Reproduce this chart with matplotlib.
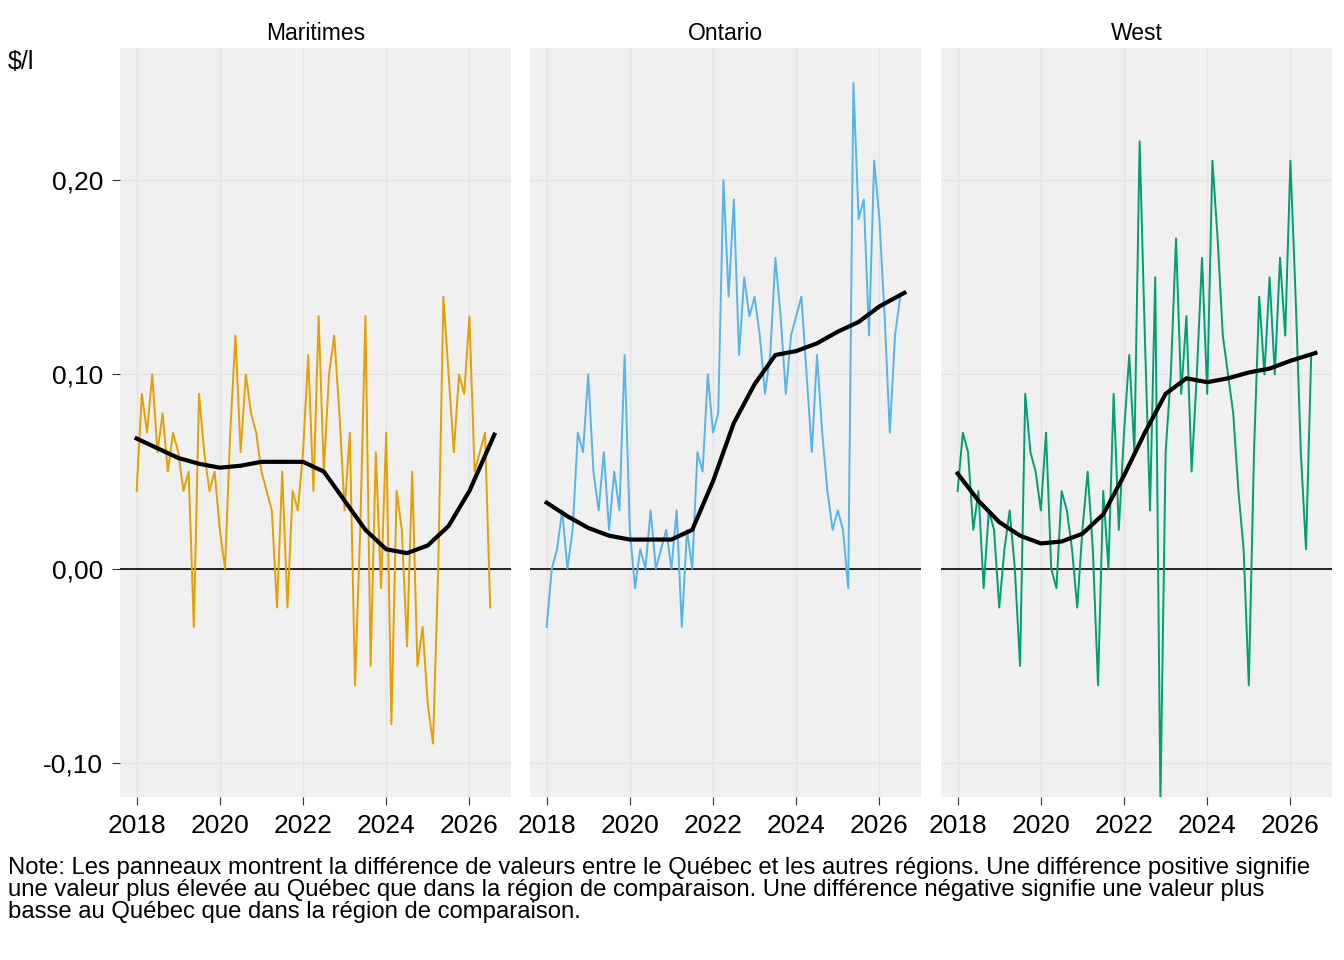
import numpy as np
import matplotlib.pyplot as plt

plt.rcParams['font.family'] = ['Liberation Sans', 'DejaVu Sans']

regions = ['Maritimes', 'Ontario', 'West']
colors = ['#E69F00', '#56B4E9', '#009E73']

# raw series, one value per ~1.5 months from 2018.0
maritimes = [0.04, 0.09, 0.07, 0.10, 0.06, 0.08, 0.05, 0.07,
             0.06, 0.04, 0.05, -0.03, 0.09, 0.06, 0.04, 0.05,
             0.02, 0.00, 0.07, 0.12, 0.06, 0.10, 0.08, 0.07,
             0.05, 0.04, 0.03, -0.02, 0.05, -0.02, 0.04, 0.03,
             0.06, 0.11, 0.04, 0.13, 0.05, 0.10, 0.12, 0.08,
             0.03, 0.07, -0.06, 0.02, 0.13, -0.05, 0.06, -0.01,
             0.07, -0.08, 0.04, 0.02, -0.04, 0.05, -0.05, -0.03,
             -0.07, -0.09, 0.00, 0.14, 0.10, 0.06, 0.10, 0.09,
             0.13, 0.05, 0.06, 0.07, -0.02]
ontario = [-0.03, 0.00, 0.01, 0.03, 0.00, 0.02, 0.07, 0.06,
           0.10, 0.05, 0.03, 0.06, 0.02, 0.05, 0.03, 0.11,
           0.02, -0.01, 0.01, 0.00, 0.03, 0.00, 0.01, 0.02,
           0.00, 0.03, -0.03, 0.02, 0.00, 0.06, 0.05, 0.10,
           0.07, 0.08, 0.20, 0.14, 0.19, 0.11, 0.15, 0.13,
           0.14, 0.12, 0.09, 0.11, 0.16, 0.13, 0.09, 0.12,
           0.13, 0.14, 0.10, 0.06, 0.11, 0.07, 0.04, 0.02,
           0.03, 0.02, -0.01, 0.25, 0.18, 0.19, 0.12, 0.21,
           0.18, 0.13, 0.07, 0.12, 0.14]
west = [0.04, 0.07, 0.06, 0.02, 0.04, -0.01, 0.03, 0.02,
        -0.02, 0.01, 0.03, 0.00, -0.05, 0.09, 0.06, 0.05,
        0.03, 0.07, 0.00, -0.01, 0.04, 0.03, 0.01, -0.02,
        0.02, 0.05, 0.01, -0.06, 0.04, 0.00, 0.09, 0.02,
        0.07, 0.11, 0.06, 0.22, 0.12, 0.03, 0.15, -0.12,
        0.06, 0.10, 0.17, 0.09, 0.13, 0.05, 0.10, 0.16,
        0.09, 0.21, 0.17, 0.12, 0.10, 0.08, 0.04, 0.01,
        -0.06, 0.06, 0.14, 0.10, 0.15, 0.10, 0.16, 0.12,
        0.21, 0.14, 0.06, 0.01, 0.11]
raw_x = 2018.0 + 0.125 * np.arange(len(maritimes))

# smoothed trend
trend_x = [2018, 2018.5, 2019, 2019.5, 2020, 2020.5, 2021, 2021.5, 2022,
           2022.5, 2023, 2023.5, 2024, 2024.5, 2025, 2025.5, 2026, 2026.6]
trend_mar = [0.067, 0.062, 0.057, 0.054, 0.052, 0.053, 0.055, 0.055, 0.055,
             0.050, 0.035, 0.020, 0.010, 0.008, 0.012, 0.022, 0.040, 0.069]
trend_ont = [0.034, 0.027, 0.021, 0.017, 0.015, 0.015, 0.015, 0.020, 0.045,
             0.075, 0.095, 0.110, 0.112, 0.116, 0.122, 0.127, 0.135, 0.142]
trend_west = [0.049, 0.035, 0.024, 0.017, 0.013, 0.014, 0.018, 0.028, 0.048,
              0.070, 0.090, 0.098, 0.096, 0.098, 0.101, 0.103, 0.107, 0.111]

series = [maritimes, ontario, west]
trends = [trend_mar, trend_ont, trend_west]

W, H = 1344, 960
fig = plt.figure(figsize=(W / 100, H / 100), dpi=100)
lefts = [120, 530, 941]
pw = 391
top, bottom = 48, 797

for i in range(3):
    ax = fig.add_axes([lefts[i] / W, 1 - bottom / H, pw / W, (bottom - top) / H])
    ax.set_facecolor('#F0F0F0')
    for s in ax.spines.values():
        s.set_visible(False)
    ax.grid(True, color='#E4E4E4', linewidth=1)
    ax.set_axisbelow(True)
    ax.axhline(0, color='black', linewidth=1.2)
    ax.plot(raw_x, series[i], color=colors[i], linewidth=1.4)
    ax.plot(trend_x, trends[i], color='black', linewidth=3)
    ax.set_xlim(2017.6, 2027.0)
    ax.set_ylim(-0.1175, 0.268)
    ax.set_xticks([2018, 2020, 2022, 2024, 2026])
    ax.set_yticks([-0.1, 0.0, 0.1, 0.2])
    ax.tick_params(labelsize=19, color='#333333', length=6, pad=6)
    if i == 0:
        ax.set_yticklabels(['-0,10', '0,00', '0,10', '0,20'])
    else:
        ax.tick_params(left=False, labelleft=False)
    ax.set_title(regions[i], fontsize=16.5, pad=6)

fig.text(8 / W, 1 - 62 / H, '$/l', fontsize=18, va='center')
note = ("Note: Les panneaux montrent la différence de valeurs entre le Québec et les autres régions. "
        "Une différence positive signifie\nune valeur plus élevée au Québec que dans la région de comparaison. "
        "Une différence négative signifie une valeur plus\nbasse au Québec que dans la région de comparaison.")
fig.text(8 / W, 1 - 857 / H, note, fontsize=17.2, va='top', linespacing=1.0)

fig.savefig('out.png', dpi=100)
